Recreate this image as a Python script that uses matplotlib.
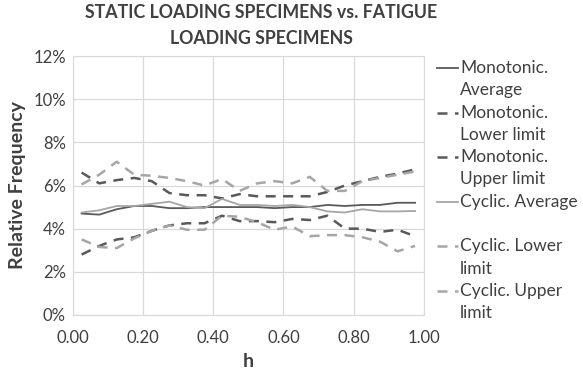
import matplotlib.pyplot as plt
from matplotlib.lines import Line2D
from matplotlib.ticker import FuncFormatter

h = [0.025, 0.075, 0.125, 0.175, 0.225, 0.275, 0.325, 0.375, 0.425, 0.475,
     0.525, 0.575, 0.625, 0.675, 0.725, 0.775, 0.825, 0.875, 0.925, 0.975]

mono_avg = [4.70, 4.65, 4.90, 5.05, 5.05, 4.95, 4.95, 5.00, 5.00, 5.00,
            5.00, 4.95, 5.00, 5.00, 5.10, 5.05, 5.10, 5.10, 5.20, 5.20]
mono_low = [2.80, 3.20, 3.50, 3.60, 3.90, 4.15, 4.25, 4.25, 4.60, 4.35,
            4.35, 4.30, 4.45, 4.40, 4.60, 4.00, 4.00, 3.85, 3.95, 3.65]
mono_up = [6.60, 6.10, 6.25, 6.35, 6.20, 5.65, 5.55, 5.55, 5.40, 5.60,
           5.50, 5.50, 5.50, 5.50, 5.70, 6.00, 6.20, 6.40, 6.55, 6.75]
cyc_avg = [4.75, 4.85, 5.05, 5.05, 5.15, 5.25, 5.00, 4.95, 5.38, 5.10,
           5.10, 5.05, 5.10, 5.00, 4.80, 4.75, 4.90, 4.80, 4.80, 4.82]
cyc_low = [3.50, 3.15, 3.10, 3.55, 3.90, 4.15, 3.95, 3.95, 4.60, 4.55,
           4.30, 3.95, 4.10, 3.65, 3.70, 3.70, 3.60, 3.40, 2.95, 3.20]
cyc_up = [6.05, 6.50, 7.10, 6.50, 6.45, 6.35, 6.20, 6.00, 6.30, 5.75,
          6.10, 6.20, 6.10, 6.40, 5.75, 5.75, 6.20, 6.35, 6.50, 6.65]

labels = ['Monotonic.\nAverage', 'Monotonic.\nLower limit', 'Monotonic.\nUpper limit',
          'Cyclic. Average', 'Cyclic. Lower\nlimit', 'Cyclic. Upper\nlimit']
title_lines = ['STATIC LOADING SPECIMENS vs. FATIGUE', 'LOADING SPECIMENS']

dark = '#595959'
light = '#a6a6a6'
txt = '#404040'
dash = (0, (4, 3))

plt.rcParams['font.family'] = ['Lato', 'DejaVu Sans']

fig = plt.figure(figsize=(5.83, 3.71), dpi=100)
ax = fig.add_axes([0.125, 0.151, 0.602, 0.698])

series = [mono_avg, mono_low, mono_up, cyc_avg, cyc_low, cyc_up]
colors = [dark, dark, dark, light, light, light]
styles = ['-', dash, dash, '-', dash, dash]
widths = [1.3, 1.8, 1.8, 1.3, 1.8, 1.8]
for ys, c, s, w in zip(series, colors, styles, widths):
    ax.plot(h, ys, color=c, ls=s, lw=w)

ax.set_xlim(0, 1)
ax.set_ylim(0, 12)
ax.set_xticks([0, 0.2, 0.4, 0.6, 0.8, 1.0])
ax.set_yticks(range(0, 13, 2))
ax.xaxis.set_major_formatter(FuncFormatter(lambda v, p: f'{v:.2f}'))
ax.yaxis.set_major_formatter(FuncFormatter(lambda v, p: f'{v:.0f}%'))
ax.grid(True, color='#d9d9d9', lw=0.9)
ax.set_axisbelow(True)
for s in ax.spines.values():
    s.set_color('#d9d9d9')
ax.tick_params(axis='x', length=0, labelsize=12, colors=txt, pad=11)
ax.tick_params(axis='y', length=0, labelsize=12, colors=txt, pad=5)

ax.set_xlabel('h', fontsize=14, fontweight='bold', color=txt)
ax.xaxis.set_label_coords(0.5, -0.145)

# axis title and chart title placed in figure coords
fig.text(18 / 583, 1 - 185 / 371, 'Relative Frequency', rotation=90,
         ha='center', va='center', fontsize=14, fontweight='bold', color=txt)
for k, t in enumerate(title_lines):
    fig.text(0.4485, 1 - (12.5 + 25.5 * k) / 371, t, ha='center', va='center',
             fontsize=12.8, fontweight='bold', color=txt)

# legend drawn by hand so the key sits on the first text line, as in the original
pitch = 22.3 / 371
y0 = 1 - 68 / 371
for i, (lab, c, s, w) in enumerate(zip(labels, colors, styles, widths)):
    y = y0 - i * 2 * pitch
    fig.add_artist(Line2D([437 / 583, 458 / 583], [y, y], color=c, ls=s, lw=w,
                          transform=fig.transFigure))
    for j, line in enumerate(lab.split('\n')):
        fig.text(460 / 583, y - j * pitch, line, ha='left', va='center',
                 fontsize=12.5, color=txt)

plt.savefig('out.png', dpi=100)
